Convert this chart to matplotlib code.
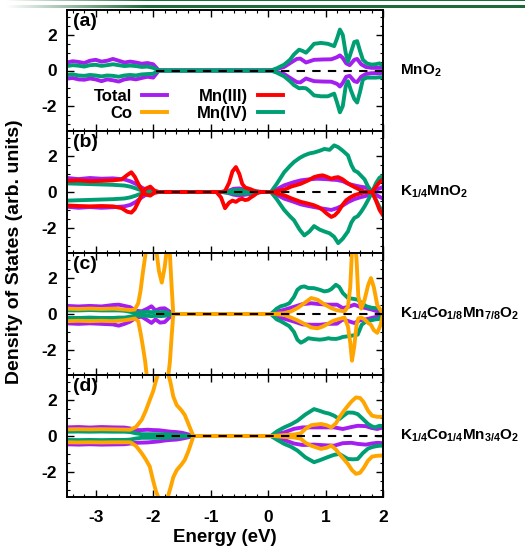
import numpy as np
import matplotlib
matplotlib.use('Agg')
import matplotlib.pyplot as plt
from matplotlib.lines import Line2D

plt.rcParams['font.family'] = ['Liberation Sans', 'DejaVu Sans']
plt.rcParams['font.weight'] = 'bold'
plt.rcParams['axes.unicode_minus'] = False
plt.rcParams['mathtext.fontset'] = 'custom'
plt.rcParams['mathtext.rm'] = 'Liberation Sans:bold'
plt.rcParams['mathtext.it'] = 'Liberation Sans:bold'
plt.rcParams['mathtext.bf'] = 'Liberation Sans:bold'
plt.rcParams['mathtext.default'] = 'rm'

# ---------------- data ----------------
SERIES = ['Total', 'Co', 'Mn(III)', 'Mn(IV)']
COLORS = {'Total': '#a51ef0', 'Co': '#ffa500', 'Mn(III)': '#ff0000', 'Mn(IV)': '#009e73'}
PANEL_LABELS = ['(a)', '(b)', '(c)', '(d)']
COMPOUNDS = [r'$\mathrm{MnO_2}$', r'$\mathrm{K_{1/4}MnO_2}$',
             r'$\mathrm{K_{1/4}Co_{1/8}Mn_{7/8}O_2}$', r'$\mathrm{K_{1/4}Co_{1/4}Mn_{3/4}O_2}$']
X_TICKS = [-3, -2, -1, 0, 1, 2]
Y_TICKS = [-2, 0, 2]
XLIM = (-3.5, 2.0)
YLIM = (-3.4, 3.4)
ZERO_LINE = (-1.95, 2.0)

# ---- panel (a) MnO2 ----
A_L_E = [-3.5, -3.4, -3.3, -3.2, -3.1, -3.0, -2.9, -2.8, -2.7, -2.6, -2.5, -2.4, -2.3, -2.2, -2.1, -2.0, -1.9]
A_TOT_L_UP = [0.45, 0.52, 0.48, 0.42, 0.55, 0.6, 0.5, 0.55, 0.65, 0.55, 0.45, 0.5, 0.45, 0.38, 0.42, 0.35, 0.0]
A_TOT_L_DN = [-0.45, -0.42, -0.5, -0.52, -0.45, -0.5, -0.6, -0.5, -0.55, -0.62, -0.5, -0.45, -0.5, -0.42, -0.35, -0.4, 0.0]
A_M4_L_UP = [0.25, 0.3, 0.27, 0.22, 0.3, 0.32, 0.26, 0.3, 0.35, 0.3, 0.25, 0.28, 0.25, 0.2, 0.22, 0.15, 0.0]
A_M4_L_DN = [-0.25, -0.22, -0.28, -0.3, -0.25, -0.28, -0.33, -0.28, -0.3, -0.35, -0.28, -0.25, -0.28, -0.22, -0.2, -0.18, 0.0]

A_TOT_R_E = [0.0, 0.05, 0.15, 0.28, 0.4, 0.5, 0.56, 0.66, 0.8, 0.95, 1.1, 1.2, 1.25, 1.3, 1.36, 1.42, 1.5, 1.55, 1.62, 1.7, 1.8, 1.9, 2.0]
A_TOT_R_UP = [0, 0, 0.08, 0.2, 0.45, 0.65, 0.67, 0.45, 0.6, 0.62, 0.63, 0.75, 0.85, 0.7, 0.4, 0.3, 0.6, 0.65, 0.35, 0.2, 0.15, 0.15, 0.15]
A_TOT_R_DN = [0, 0, -0.08, -0.2, -0.45, -0.65, -0.67, -0.45, -0.6, -0.62, -0.63, -0.75, -0.9, -0.7, -0.35, -0.3, -0.6, -0.65, -0.35, -0.2, -0.15, -0.15, -0.15]
A_M4_R_E = [0.0, 0.05, 0.15, 0.28, 0.38, 0.45, 0.54, 0.6, 0.66, 0.72, 0.8, 0.92, 1.04, 1.15, 1.2, 1.25, 1.3, 1.35, 1.39, 1.44, 1.5, 1.55, 1.6, 1.65, 1.72, 1.8, 1.87, 1.94, 2.0]
A_M4_R_UP = [0, 0, 0.12, 0.33, 0.6, 0.9, 1.17, 1.1, 1.0, 1.2, 1.5, 1.55, 1.5, 1.37, 1.8, 2.3, 2.0, 1.0, 0.5, 1.0, 1.6, 1.65, 1.1, 0.6, 0.4, 0.33, 0.35, 0.4, 0.25]
A_M4_R_DN = [0, 0, -0.12, -0.33, -0.6, -0.82, -1.0, -0.98, -1.0, -1.15, -1.4, -1.45, -1.45, -1.3, -1.8, -2.35, -2.0, -0.9, -0.6, -1.1, -1.6, -1.8, -1.2, -0.5, -0.4, -0.4, -0.4, -0.38, -0.38]

# ---- panel (b) K1/4MnO2 ----
B_L_E = [-3.5, -3.3, -3.1, -2.9, -2.7, -2.5, -2.4, -2.3, -2.2, -2.1, -2.0, -1.9]
B_TOT_L_UP = [0.78, 0.72, 0.78, 0.74, 0.76, 0.7, 0.6, 0.45, 0.25, 0.08, 0.02, 0.0]
B_TOT_L_DN = [-0.82, -0.88, -0.84, -0.88, -0.85, -0.8, -0.72, -0.55, -0.3, -0.1, -0.02, 0.0]
B_M4_L_UP = [0.48, 0.46, 0.44, 0.42, 0.4, 0.36, 0.3, 0.2, 0.08, 0.02, 0.0, 0.0]
B_M4_L_DN = [-0.48, -0.46, -0.44, -0.42, -0.4, -0.36, -0.3, -0.2, -0.08, -0.02, 0.0, 0.0]
B_M3_L_E = [-3.5, -3.3, -3.1, -2.9, -2.7, -2.55, -2.45, -2.38, -2.32, -2.25, -2.18, -2.12, -2.05, -1.98, -1.9]
B_M3_L_UP = [0.62, 0.65, 0.6, 0.62, 0.65, 0.7, 0.95, 1.1, 0.85, 0.4, 0.02, 0.2, 0.3, 0.08, 0.0]
B_M3_L_DN = [-0.75, -0.78, -0.8, -0.78, -0.8, -0.9, -1.1, -1.15, -0.95, -0.5, -0.05, -0.15, -0.2, -0.05, 0.0]

B_MID_E = [-0.8, -0.7, -0.6, -0.5, -0.4, -0.3, -0.2, -0.1]
B_TOT_MID_UP = [0, 0.05, 0.18, 0.2, 0.12, 0.08, 0.03, 0]
B_TOT_MID_DN = [0, -0.05, -0.15, -0.2, -0.15, -0.1, -0.04, 0]
B_M4_MID_UP = [0, 0.03, 0.1, 0.12, 0.08, 0.05, 0.02, 0]
B_M4_MID_DN = [0, -0.03, -0.08, -0.1, -0.08, -0.05, -0.02, 0]
B_M3_MID_E = [-0.9, -0.82, -0.75, -0.68, -0.62, -0.56, -0.5, -0.45, -0.4, -0.35, -0.3, -0.25, -0.2, -0.15, -0.1]
B_M3_MID_UP = [0, 0, 0.05, 0.5, 1.15, 1.39, 1.0, 0.45, 0.25, 0.2, 0.15, 0.08, 0.02, 0, 0]
B_M3_MID_DN = [0, -0.3, -0.9, -0.6, -0.48, -0.55, -0.42, -0.38, -0.45, -0.42, -0.3, -0.2, -0.08, 0, 0]

B_TOT_R_E = [0.0, 0.05, 0.15, 0.28, 0.45, 0.57, 0.7, 0.85, 1.0, 1.1, 1.2, 1.3, 1.4, 1.5, 1.6, 1.7, 1.81, 1.9, 2.0]
B_TOT_R_UP = [0, 0, 0.15, 0.37, 0.55, 0.65, 0.7, 0.74, 0.72, 0.69, 0.67, 0.6, 0.45, 0.37, 0.3, 0.25, 0.0, 0.15, 0.28]
B_TOT_R_DN = [0, 0, -0.15, -0.37, -0.55, -0.69, -0.78, -0.87, -0.95, -1.0, -0.9, -0.75, -0.55, -0.4, -0.3, -0.22, 0.0, -0.2, -0.37]
B_M4_R_E = [0.0, 0.05, 0.15, 0.28, 0.38, 0.45, 0.55, 0.63, 0.72, 0.8, 0.9, 0.98, 1.07, 1.15, 1.22, 1.3, 1.39, 1.45, 1.5, 1.56, 1.62, 1.68, 1.74, 1.81, 1.88, 1.94, 2.0]
B_M4_R_UP = [0, 0, 0.45, 1.1, 1.45, 1.67, 1.9, 2.04, 2.15, 2.2, 2.3, 2.4, 2.35, 2.6, 2.5, 2.3, 2.04, 1.5, 1.2, 1.1, 0.9, 0.7, 0.3, 0.0, -0.45, -0.85, -1.05]
B_M4_R_DN = [0, 0, -0.4, -1.0, -1.35, -1.57, -2.1, -2.42, -2.2, -1.9, -2.1, -2.2, -2.3, -2.5, -2.85, -2.6, -2.2, -1.7, -1.45, -1.35, -1.1, -0.8, -0.45, 0.0, 0.5, 0.8, 0.9]
B_M3_R_E = [0.0, 0.05, 0.15, 0.28, 0.4, 0.57, 0.7, 0.8, 0.88, 0.95, 1.02, 1.1, 1.16, 1.22, 1.3, 1.36, 1.43, 1.5, 1.6, 1.68, 1.75, 1.81, 1.88, 1.94, 2.0]
B_M3_R_UP = [0, 0, 0.05, 0.13, 0.3, 0.46, 0.65, 0.83, 0.9, 0.93, 0.85, 0.74, 0.8, 0.83, 0.7, 0.55, 0.4, 0.28, 0.12, 0.02, 0.0, 0.0, 0.3, 0.55, 0.7]
B_M3_R_DN = [0, 0, -0.08, -0.18, -0.35, -0.55, -0.65, -0.74, -0.85, -1.0, -1.2, -1.39, -1.3, -1.1, -0.7, -0.46, -0.3, -0.18, -0.08, -0.02, 0.0, 0.0, -0.5, -1.0, -1.3]

# ---- panel (c) K1/4Co1/8Mn7/8O2 ----
C_L_E = [-3.5, -3.3, -3.1, -2.9, -2.7, -2.6, -2.5, -2.4, -2.3, -2.2, -2.1, -2.03, -1.96, -1.88, -1.8, -1.72, -1.64]
C_TOT_L_UP = [0.45, 0.42, 0.45, 0.42, 0.5, 0.52, 0.45, 0.38, 0.18, 0.15, 0.3, 0.43, 0.2, 0.3, 0.32, 0.15, 0.0]
C_TOT_L_DN = [-0.52, -0.55, -0.52, -0.55, -0.58, -0.65, -0.55, -0.42, -0.2, -0.15, -0.35, -0.5, -0.3, -0.48, -0.45, -0.2, 0.0]
C_M4_L_UP = [0.2, 0.2, 0.22, 0.2, 0.2, 0.2, 0.18, 0.12, 0.06, 0.1, 0.12, 0.1, 0.12, 0.1, 0.12, 0.05, 0.0]
C_M4_L_DN = [-0.22, -0.22, -0.2, -0.22, -0.22, -0.2, -0.2, -0.15, -0.08, -0.1, -0.1, -0.12, -0.1, -0.12, -0.1, -0.05, 0.0]
C_CO_L_E = [-3.5, -3.3, -3.1, -2.9, -2.7, -2.5, -2.4, -2.32, -2.26, -2.22, -2.18, -2.14, -2.1, -2.05, -1.98, -1.94, -1.9, -1.85, -1.8, -1.77, -1.74, -1.71, -1.68, -1.65, -1.6]
C_CO_L_UP = [0.3, 0.28, 0.3, 0.28, 0.3, 0.25, 0.22, 0.25, 0.6, 1.3, 2.3, 3.2, 4.2, 5.0, 4.5, 3.4, 2.4, 1.75, 2.6, 3.4, 4.2, 3.4, 1.6, 0.0, 0.0]
C_CO_L_DN = [-0.4, -0.38, -0.4, -0.38, -0.4, -0.35, -0.3, -0.25, -0.4, -1.05, -1.8, -2.63, -3.8, -5.0, -5.0, -5.0, -5.0, -4.8, -4.5, -4.0, -3.5, -2.7, -1.3, 0.0, 0.0]

C_TOT_R_E = [0.0, 0.05, 0.15, 0.3, 0.45, 0.6, 0.75, 0.9, 1.05, 1.2, 1.3, 1.4, 1.5, 1.6, 1.7, 1.8, 1.9, 1.98, 2.0]
C_TOT_R_UP = [0, 0, 0.12, 0.25, 0.4, 0.55, 0.6, 0.55, 0.52, 0.52, 0.33, 0.4, 0.52, 0.4, 0.33, 0.25, 0.15, 0.02, 0]
C_TOT_R_DN = [0, 0, -0.15, -0.28, -0.42, -0.58, -0.6, -0.6, -0.55, -0.54, -0.3, -0.4, -0.5, -0.35, -0.3, -0.22, -0.15, -0.02, 0]
C_M4_R_E = [0.0, 0.05, 0.15, 0.22, 0.3, 0.37, 0.45, 0.51, 0.57, 0.63, 0.7, 0.8, 0.9, 0.98, 1.05, 1.1, 1.18, 1.24, 1.3, 1.39, 1.47, 1.56, 1.63, 1.71, 1.8, 1.86, 1.93, 1.98, 2.0]
C_M4_R_UP = [0, 0, 0.3, 0.43, 0.5, 0.6, 0.95, 1.35, 1.5, 1.54, 1.45, 1.44, 1.35, 1.26, 1.3, 1.39, 1.63, 1.5, 1.17, 0.89, 0.85, 0.8, 0.6, 0.43, 0.35, 0.33, 0.3, 0.05, 0.0]
C_M4_R_DN = [0, 0, -0.3, -0.4, -0.55, -0.68, -1.0, -1.43, -1.6, -1.5, -1.35, -1.4, -1.43, -1.4, -1.35, -1.38, -1.39, -1.35, -1.28, -1.24, -1.2, -1.15, -0.6, -0.4, -0.35, -0.3, -0.28, -0.05, 0.0]
C_CO_R_E = [0.0, 0.1, 0.28, 0.4, 0.51, 0.63, 0.75, 0.86, 0.95, 1.04, 1.12, 1.21, 1.33, 1.39, 1.43, 1.46, 1.5, 1.54, 1.57, 1.62, 1.68, 1.74, 1.79, 1.84, 1.9, 1.96, 2.0]
C_CO_R_UP = [0, 0, 0.05, 0.15, 0.33, 0.6, 0.89, 0.8, 0.6, 0.43, 0.3, 0.2, 0.15, 0.4, 1.5, 3.5, 4.5, 3.0, 1.0, 0.3, 0.8, 1.6, 2.0, 1.5, 0.5, 0.2, 0.0]
C_CO_R_DN = [0, 0, -0.05, -0.2, -0.35, -0.55, -0.75, -0.8, -0.7, -0.55, -0.4, -0.3, -0.2, -0.7, -1.6, -2.6, -1.8, -0.6, -0.25, -0.2, -0.3, -0.5, -0.6, -0.9, -1.05, -0.6, 0.0]

# ---- panel (d) K1/4Co1/4Mn3/4O2 ----
D_L_E = [-3.5, -3.3, -3.1, -2.9, -2.7, -2.5, -2.4, -2.3, -2.2, -2.1, -2.0, -1.9, -1.8, -1.7, -1.6, -1.5, -1.4, -1.3]
D_TOT_L_UP = [0.48, 0.5, 0.47, 0.5, 0.48, 0.47, 0.42, 0.33, 0.33, 0.35, 0.33, 0.32, 0.28, 0.24, 0.22, 0.18, 0.1, 0.0]
D_TOT_L_DN = [-0.46, -0.48, -0.46, -0.48, -0.47, -0.46, -0.42, -0.38, -0.37, -0.36, -0.33, -0.3, -0.25, -0.22, -0.2, -0.15, -0.08, 0.0]
D_M4_L_UP = [0.24, 0.25, 0.24, 0.25, 0.24, 0.24, 0.22, 0.15, 0.1, 0.1, 0.1, 0.1, 0.1, 0.08, 0.06, 0.04, 0.02, 0.0]
D_M4_L_DN = [-0.22, -0.23, -0.22, -0.23, -0.22, -0.22, -0.2, -0.14, -0.1, -0.1, -0.1, -0.1, -0.1, -0.08, -0.06, -0.04, -0.02, 0.0]
D_CO_L_E = [-3.5, -3.3, -3.1, -2.9, -2.7, -2.5, -2.4, -2.3, -2.2, -2.13, -2.06, -2.0, -1.95, -1.9, -1.85, -1.8, -1.75, -1.7, -1.65, -1.59, -1.51, -1.45, -1.39, -1.34, -1.3]
D_CO_L_UP = [0.37, 0.38, 0.37, 0.38, 0.37, 0.36, 0.35, 0.5, 0.9, 1.4, 2.0, 2.5, 3.1, 3.6, 3.9, 3.9, 3.6, 3.0, 2.2, 1.72, 1.44, 1.17, 0.7, 0.3, 0.0]
D_CO_L_DN = [-0.35, -0.36, -0.35, -0.36, -0.35, -0.35, -0.35, -0.55, -0.96, -1.3, -1.7, -2.5, -3.1, -3.5, -3.6, -3.6, -3.45, -2.9, -2.3, -1.9, -1.6, -1.33, -0.87, -0.4, 0.0]

D_TOT_R_E = [0.0, 0.05, 0.15, 0.28, 0.45, 0.6, 0.8, 1.0, 1.15, 1.3, 1.45, 1.56, 1.7, 1.8, 1.9, 2.0]
D_TOT_R_UP = [0, 0, 0.1, 0.2, 0.4, 0.48, 0.48, 0.48, 0.48, 0.39, 0.5, 0.57, 0.55, 0.45, 0.39, 0.48]
D_TOT_R_DN = [0, 0, -0.1, -0.22, -0.42, -0.5, -0.48, -0.52, -0.54, -0.4, -0.38, -0.44, -0.48, -0.42, -0.38, -0.4]
D_M4_R_E = [0.0, 0.05, 0.15, 0.28, 0.4, 0.51, 0.65, 0.8, 0.9, 0.98, 1.06, 1.15, 1.24, 1.32, 1.39, 1.48, 1.56, 1.65, 1.74, 1.8, 1.86, 1.94, 2.0]
D_M4_R_UP = [0, 0, 0.25, 0.48, 0.65, 0.85, 1.2, 1.5, 1.4, 1.31, 1.25, 1.13, 0.94, 1.15, 1.31, 1.3, 1.22, 0.95, 0.67, 0.55, 0.48, 0.57, 0.55]
D_M4_R_DN = [0, 0, -0.2, -0.44, -0.6, -0.81, -1.19, -1.46, -1.35, -1.25, -1.15, -1.05, -1.0, -1.15, -1.28, -1.3, -1.28, -0.95, -0.7, -0.63, -0.58, -0.54, -0.54]
D_CO_R_E = [0.0, 0.1, 0.28, 0.45, 0.57, 0.65, 0.75, 0.92, 1.02, 1.1, 1.18, 1.24, 1.32, 1.39, 1.46, 1.53, 1.6, 1.66, 1.74, 1.81, 1.9, 2.0]
D_CO_R_UP = [0, 0, 0.05, 0.08, 0.15, 0.4, 0.6, 0.67, 0.6, 0.48, 0.7, 1.04, 1.4, 1.69, 1.95, 2.15, 2.12, 1.9, 1.41, 1.13, 1.07, 1.07]
D_CO_R_DN = [0, 0, -0.05, -0.08, -0.15, -0.38, -0.54, -0.72, -0.65, -0.54, -0.75, -1.0, -1.3, -1.56, -1.9, -2.11, -2.05, -1.8, -1.37, -1.15, -1.1, -1.09]

# curve assembly: (series, up segments, down segments), drawn in list order
PANELS = [
    [('Total', [(A_L_E, A_TOT_L_UP), (A_TOT_R_E, A_TOT_R_UP)], [(A_L_E, A_TOT_L_DN), (A_TOT_R_E, A_TOT_R_DN)]),
     ('Mn(IV)', [(A_L_E, A_M4_L_UP), (A_M4_R_E, A_M4_R_UP)], [(A_L_E, A_M4_L_DN), (A_M4_R_E, A_M4_R_DN)])],
    [('Total', [(B_L_E, B_TOT_L_UP), (B_MID_E, B_TOT_MID_UP), (B_TOT_R_E, B_TOT_R_UP)],
               [(B_L_E, B_TOT_L_DN), (B_MID_E, B_TOT_MID_DN), (B_TOT_R_E, B_TOT_R_DN)]),
     ('Mn(IV)', [(B_L_E, B_M4_L_UP), (B_MID_E, B_M4_MID_UP), (B_M4_R_E, B_M4_R_UP)],
                [(B_L_E, B_M4_L_DN), (B_MID_E, B_M4_MID_DN), (B_M4_R_E, B_M4_R_DN)]),
     ('Mn(III)', [(B_M3_L_E, B_M3_L_UP), (B_M3_MID_E, B_M3_MID_UP), (B_M3_R_E, B_M3_R_UP)],
                 [(B_M3_L_E, B_M3_L_DN), (B_M3_MID_E, B_M3_MID_DN), (B_M3_R_E, B_M3_R_DN)])],
    [('Total', [(C_L_E, C_TOT_L_UP), (C_TOT_R_E, C_TOT_R_UP)], [(C_L_E, C_TOT_L_DN), (C_TOT_R_E, C_TOT_R_DN)]),
     ('Mn(IV)', [(C_L_E, C_M4_L_UP), (C_M4_R_E, C_M4_R_UP)], [(C_L_E, C_M4_L_DN), (C_M4_R_E, C_M4_R_DN)]),
     ('Co', [(C_CO_L_E, C_CO_L_UP), (C_CO_R_E, C_CO_R_UP)], [(C_CO_L_E, C_CO_L_DN), (C_CO_R_E, C_CO_R_DN)])],
    [('Total', [(D_L_E, D_TOT_L_UP), (D_TOT_R_E, D_TOT_R_UP)], [(D_L_E, D_TOT_L_DN), (D_TOT_R_E, D_TOT_R_DN)]),
     ('Mn(IV)', [(D_L_E, D_M4_L_UP), (D_M4_R_E, D_M4_R_UP)], [(D_L_E, D_M4_L_DN), (D_M4_R_E, D_M4_R_DN)]),
     ('Co', [(D_CO_L_E, D_CO_L_UP), (D_CO_R_E, D_CO_R_UP)], [(D_CO_L_E, D_CO_L_DN), (D_CO_R_E, D_CO_R_DN)])],
]


def join(segs):
    e = np.concatenate([np.asarray(s[0], float) for s in segs])
    v = np.concatenate([np.asarray(s[1], float) for s in segs])
    return e, v


# ---------------- figure ----------------
W, H = 525, 547
fig = plt.figure(figsize=(W / 100, H / 100), dpi=100)

# top decorative gradient bars
deco = fig.add_axes([0, 1 - 9 / H, 1, 9 / H])
cols = np.arange(W)
fade = np.clip((cols - 6) / 140.0, 0, 1)
img = np.ones((9, W, 3))
green = np.array([0.12, 0.42, 0.23])
for r in (0, 5, 6, 7):
    img[r] = 1 - fade[:, None] * (1 - green)
deco.imshow(img, aspect='auto', interpolation='nearest')
deco.axis('off')

left, right = 67 / W, 383 / W
tops = [10, 131, 253, 375, 497]
axes = []
for i in range(4):
    bottom = 1 - tops[i + 1] / H
    height = (tops[i + 1] - tops[i]) / H
    ax = fig.add_axes([left, bottom, right - left, height])
    axes.append(ax)

LW = 2.8
for i, ax in enumerate(axes):
    for name, up, dn in PANELS[i]:
        e, v = join(up)
        ax.plot(e, v, color=COLORS[name], lw=LW, solid_joinstyle='round', zorder=2)
        e, v = join(dn)
        ax.plot(e, v, color=COLORS[name], lw=LW, solid_joinstyle='round', zorder=2)
    ax.hlines(0, ZERO_LINE[0], ZERO_LINE[1], colors='black', linestyles=(0, (4, 3.5)), lw=1.5, zorder=5)
    ax.set_xlim(*XLIM)
    ax.set_ylim(*YLIM)
    ax.set_xticks(X_TICKS)
    ax.set_xticks(np.arange(-3.4, 2.01, 0.2), minor=True)
    ax.set_yticks(Y_TICKS)
    ax.set_yticks(np.arange(-3.0, 3.01, 0.5), minor=True)
    ax.tick_params(which='both', direction='in', top=True, right=True)
    ax.tick_params(which='major', length=5, width=1.0, labelsize=12.5)
    ax.tick_params(axis='y', which='major', pad=7)
    ax.tick_params(axis='x', which='major', pad=9)
    ax.tick_params(which='minor', length=2.5, width=0.8)
    for sp in ax.spines.values():
        sp.set_linewidth(1.4)
    if i < 3:
        ax.tick_params(labelbottom=False)
    ax.text(0.02, 0.975, PANEL_LABELS[i], transform=ax.transAxes, ha='left', va='top',
            fontsize=14, fontweight='bold')
    ax.annotate(COMPOUNDS[i], xy=(1.053, 0), xycoords=('axes fraction', 'data'),
                ha='left', va='center', fontsize=11, annotation_clip=False)

axes[3].set_xlabel('Energy (eV)', fontsize=13.5, fontweight='bold', labelpad=3)
fig.text(15 / W, 1 - 252 / H, 'Density of States (arb. units)', rotation=90,
         ha='center', va='center', fontsize=14, fontweight='bold')

handles = [Line2D([], [], color=COLORS[s], lw=LW) for s in SERIES]
axes[0].legend(handles, SERIES, loc='upper left', bbox_to_anchor=(0.085, 0.35), ncol=2,
               markerfirst=False, frameon=False, fontsize=12, handlelength=1.5,
               handletextpad=0.6, columnspacing=1.8, labelspacing=0.15,
               borderaxespad=0, borderpad=0)

fig.savefig('out.png', dpi=100)
